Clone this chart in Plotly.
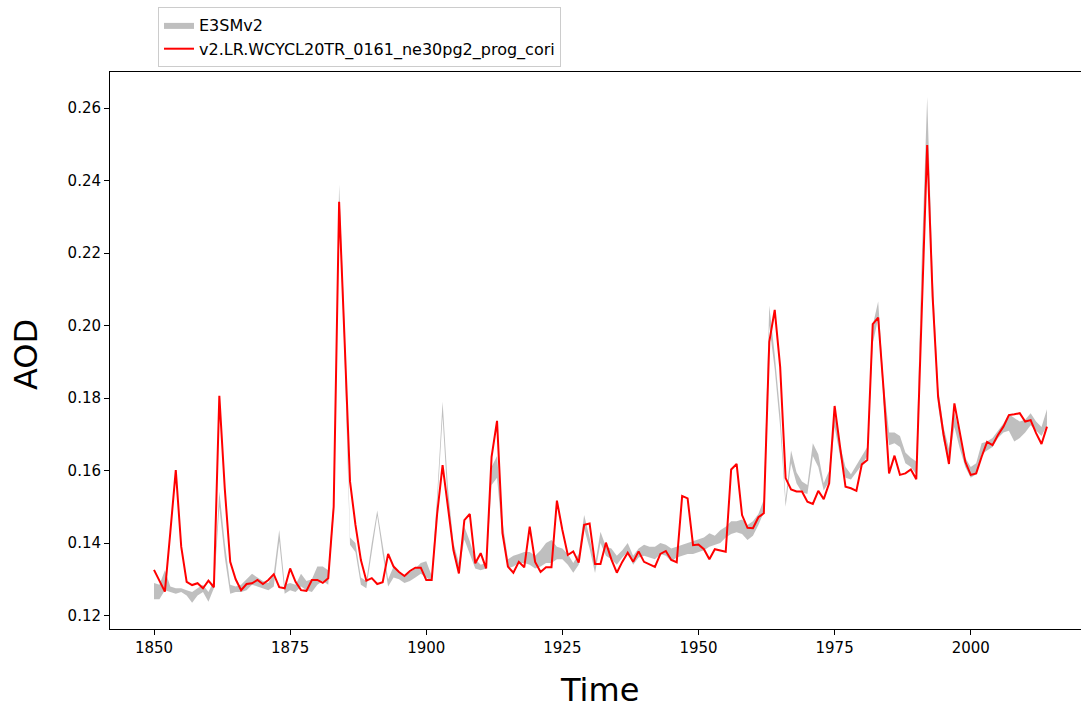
import plotly.graph_objects as go

years = list(range(1850, 2015))

aod_run = [
    0.1326, 0.1296, 0.1266, 0.1430, 0.1601, 0.1390, 0.1293, 0.1284, 0.1289, 0.1275,
    0.1296, 0.1278, 0.1806, 0.1550, 0.1348, 0.1300, 0.1270, 0.1287, 0.1289, 0.1298,
    0.1287, 0.1298, 0.1314, 0.1278, 0.1275, 0.1330, 0.1293, 0.1270, 0.1268, 0.1298,
    0.1298, 0.1290, 0.1303, 0.1500, 0.2341, 0.1960, 0.1570, 0.1450, 0.1353, 0.1296,
    0.1303, 0.1287, 0.1292, 0.1370, 0.1335, 0.1320, 0.1309, 0.1323, 0.1332, 0.1332,
    0.1298, 0.1298, 0.1480, 0.1615, 0.1490, 0.1380, 0.1316, 0.1463, 0.1480, 0.1344,
    0.1372, 0.1330, 0.1638, 0.1737, 0.1427, 0.1335, 0.1318, 0.1348, 0.1333, 0.1445,
    0.1348, 0.1320, 0.1333, 0.1333, 0.1517, 0.1436, 0.1367, 0.1377, 0.1346, 0.1450,
    0.1454, 0.1342, 0.1342, 0.1401, 0.1355, 0.1318, 0.1348, 0.1373, 0.1348, 0.1377,
    0.1348, 0.1340, 0.1334, 0.1370, 0.1378, 0.1353, 0.1347, 0.1530, 0.1523, 0.1394,
    0.1396, 0.1383, 0.1355, 0.1383, 0.1379, 0.1376, 0.1603, 0.1618, 0.1477, 0.1442,
    0.1441, 0.1471, 0.1482, 0.1955, 0.2043, 0.1886, 0.1579, 0.1548, 0.1542, 0.1542,
    0.1514, 0.1508, 0.1544, 0.1521, 0.1565, 0.1778, 0.1665, 0.1555, 0.1551, 0.1544,
    0.1617, 0.1629, 0.2004, 0.2022, 0.1822, 0.1592, 0.1641, 0.1588, 0.1592, 0.1603,
    0.1576, 0.2050, 0.2498, 0.2080, 0.1804, 0.1700, 0.1618, 0.1785, 0.1700, 0.1624,
    0.1588, 0.1592, 0.1638, 0.1679, 0.1670, 0.1698, 0.1721, 0.1753, 0.1755, 0.1758,
    0.1735, 0.1739, 0.1703, 0.1673, 0.1721,
]

ens_min = [
    0.1245, 0.1245, 0.1270, 0.1265, 0.1260, 0.1265, 0.1255, 0.1235, 0.1255, 0.1265,
    0.1238, 0.1275, 0.1500, 0.1360, 0.1260, 0.1265, 0.1265, 0.1270, 0.1285, 0.1280,
    0.1275, 0.1270, 0.1280, 0.1405, 0.1260, 0.1270, 0.1265, 0.1280, 0.1270, 0.1265,
    0.1285, 0.1295, 0.1285, 0.1480, 0.2340, 0.1920, 0.1395, 0.1375, 0.1285, 0.1275,
    0.1375, 0.1475, 0.1370, 0.1280, 0.1305, 0.1300, 0.1290, 0.1295, 0.1305, 0.1315,
    0.1305, 0.1295, 0.1500, 0.1750, 0.1500, 0.1370, 0.1325, 0.1410, 0.1370, 0.1330,
    0.1325, 0.1330, 0.1560, 0.1580, 0.1420, 0.1330, 0.1335, 0.1345, 0.1345, 0.1340,
    0.1330, 0.1335, 0.1345, 0.1345, 0.1355, 0.1355, 0.1340, 0.1318, 0.1340, 0.1440,
    0.1385, 0.1317, 0.1400, 0.1365, 0.1355, 0.1340, 0.1360, 0.1375, 0.1340, 0.1360,
    0.1365, 0.1360, 0.1355, 0.1370, 0.1365, 0.1350, 0.1360, 0.1365, 0.1370, 0.1370,
    0.1375, 0.1380, 0.1390, 0.1395, 0.1400, 0.1415, 0.1425, 0.1430, 0.1425, 0.1408,
    0.1420, 0.1450, 0.1485, 0.2000, 0.1880, 0.1720, 0.1500, 0.1620, 0.1565, 0.1540,
    0.1535, 0.1640, 0.1610, 0.1545, 0.1570, 0.1720, 0.1640, 0.1580, 0.1575, 0.1595,
    0.1615, 0.1640, 0.1950, 0.2020, 0.1785, 0.1670, 0.1675, 0.1665, 0.1620, 0.1610,
    0.1590, 0.2120, 0.2500, 0.2080, 0.1780, 0.1680, 0.1630, 0.1720, 0.1660, 0.1610,
    0.1580, 0.1590, 0.1645, 0.1655, 0.1665, 0.1690, 0.1705, 0.1710, 0.1680, 0.1690,
    0.1705, 0.1725, 0.1710, 0.1695, 0.1725,
]

ens_max = [
    0.1290, 0.1285, 0.1325, 0.1280, 0.1275, 0.1275, 0.1270, 0.1265, 0.1275, 0.1285,
    0.1265, 0.1295, 0.1542, 0.1400, 0.1285, 0.1280, 0.1285, 0.1300, 0.1315, 0.1305,
    0.1295, 0.1290, 0.1315, 0.1436, 0.1285, 0.1290, 0.1285, 0.1315, 0.1295, 0.1300,
    0.1335, 0.1335, 0.1325, 0.1520, 0.2388, 0.2000, 0.1415, 0.1400, 0.1305, 0.1295,
    0.1400, 0.1490, 0.1390, 0.1300, 0.1335, 0.1320, 0.1310, 0.1320, 0.1330, 0.1345,
    0.1350, 0.1310, 0.1530, 0.1790, 0.1550, 0.1400, 0.1345, 0.1445, 0.1405, 0.1355,
    0.1340, 0.1345, 0.1610, 0.1640, 0.1460, 0.1355, 0.1365, 0.1370, 0.1375, 0.1375,
    0.1365, 0.1380, 0.1400, 0.1408, 0.1390, 0.1385, 0.1370, 0.1345, 0.1370, 0.1477,
    0.1415, 0.1340, 0.1431, 0.1390, 0.1385, 0.1365, 0.1380, 0.1400, 0.1365, 0.1385,
    0.1395, 0.1390, 0.1390, 0.1400, 0.1395, 0.1385, 0.1390, 0.1395, 0.1400, 0.1405,
    0.1410, 0.1415, 0.1427, 0.1420, 0.1435, 0.1445, 0.1460, 0.1460, 0.1465, 0.1450,
    0.1460, 0.1480, 0.1520, 0.2055, 0.1920, 0.1760, 0.1520, 0.1655, 0.1595, 0.1570,
    0.1560, 0.1675, 0.1645, 0.1565, 0.1600, 0.1760, 0.1670, 0.1610, 0.1590, 0.1615,
    0.1640, 0.1665, 0.2000, 0.2066, 0.1840, 0.1705, 0.1705, 0.1695, 0.1650, 0.1635,
    0.1625, 0.2180, 0.2630, 0.2140, 0.1830, 0.1720, 0.1660, 0.1760, 0.1700, 0.1635,
    0.1610, 0.1620, 0.1675, 0.1680, 0.1690, 0.1710, 0.1730, 0.1755, 0.1745, 0.1735,
    0.1740, 0.1758, 0.1735, 0.1720, 0.1769,
]

band_name = "E3SMv2"
run_name = "v2.LR.WCYCL20TR_0161_ne30pg2_prog_cori"
x_ticks = [1850, 1875, 1900, 1925, 1950, 1975, 2000]
y_ticks = [0.12, 0.14, 0.16, 0.18, 0.20, 0.22, 0.24, 0.26]

FONT = "DejaVu Sans"
GRAY = "rgba(128,128,128,0.5)"

fig = go.Figure()
fig.add_trace(go.Scatter(
    x=years, y=ens_min, mode="lines", line=dict(width=0, color=GRAY),
    showlegend=False, hoverinfo="skip",
))
fig.add_trace(go.Scatter(
    x=years, y=ens_max, mode="lines", line=dict(width=0, color=GRAY),
    fill="tonexty", fillcolor=GRAY, name=band_name,
))
fig.add_trace(go.Scatter(
    x=years, y=aod_run, mode="lines", line=dict(width=2, color="#ff0000"),
    name=run_name,
))

fig.update_layout(
    width=1081, height=709,
    margin=dict(l=110, r=0, t=72, b=80),
    paper_bgcolor="white", plot_bgcolor="white",
    font=dict(family=FONT, size=15, color="#000000"),
    legend=dict(
        x=(158 - 110) / 971, y=1 + (72 - 7) / 557,
        xanchor="left", yanchor="top", traceorder="normal",
        bgcolor="white", bordercolor="#cccccc", borderwidth=1,
        font=dict(family=FONT, size=16, color="#000000"),
    ),
    xaxis=dict(
        range=[1841.92, 2020.25], tickvals=x_ticks,
        showline=True, linecolor="#000000", linewidth=1, mirror=True,
        ticks="outside", ticklen=5, tickcolor="#000000",
        showgrid=False, zeroline=False,
        tickfont=dict(family=FONT, size=15, color="#000000"),
    ),
    yaxis=dict(
        range=[0.11628, 0.26993], tickvals=y_ticks, tickformat=".2f",
        showline=True, linecolor="#000000", linewidth=1, mirror=False,
        ticks="outside", ticklen=5, tickcolor="#000000",
        showgrid=False, zeroline=False,
        tickfont=dict(family=FONT, size=15, color="#000000"),
    ),
    annotations=[
        dict(text="Time", xref="paper", yref="paper",
             x=(599 - 110) / 971, y=(629 - 690) / 557,
             xanchor="center", yanchor="middle", showarrow=False,
             font=dict(family=FONT, size=32, color="#000000")),
        dict(text="AOD", xref="paper", yref="paper",
             x=(26 - 110) / 971, y=(629 - 355) / 557,
             xanchor="center", yanchor="middle", showarrow=False, textangle=-90,
             font=dict(family=FONT, size=32, color="#000000")),
    ],
)

fig.write_html("out.html")
